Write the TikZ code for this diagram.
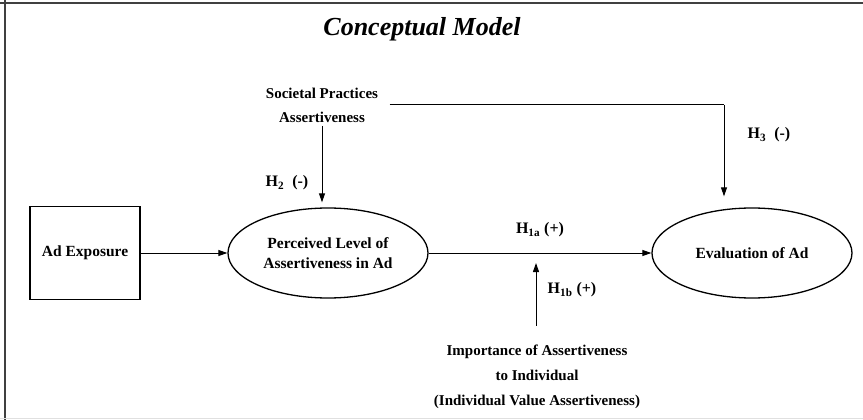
\documentclass[tikz,border=0pt]{standalone}
\usepackage{fontspec}
\setmainfont{Liberation Serif}
\usetikzlibrary{arrows.meta,shapes.geometric}

\begin{document}
\begin{tikzpicture}[x=1pt,y=-1pt,
  box/.style={draw, line width=1.4pt, minimum width=110pt, minimum height=93pt,
    inner sep=1pt, font=\bfseries\fontsize{15.5}{18}\selectfont},
  construct/.style={draw, ellipse, line width=1.3pt, minimum width=200pt,
    minimum height=90pt, inner sep=0pt, align=center,
    font=\bfseries\fontsize{15.5}{20}\selectfont},
  factor/.style={align=center, font=\bfseries\fontsize{15}{24}\selectfont},
  hyp/.style={font=\bfseries\fontsize{16}{18}\selectfont},
  link/.style={-{Triangle[length=9pt,width=6pt]}, line width=1pt}]
  \useasboundingbox (0,0) rectangle (863,420);

  % Frame
  \draw[line width=2.5pt, black!75] (0,3) -- (863,3);
  \draw[line width=2pt, black!75] (5,0) -- (5,420);
  \draw[line width=0.8pt, black!12] (0,418.5) -- (863,418.5);

  % Title
  \node[font=\bfseries\itshape\fontsize{26}{28}\selectfont] (title) at (422,29) {Conceptual Model};

  % Constructs
  \node[box] (adexp) at (85,253) {Ad Exposure};
  \node[construct] (perc) at (328,253) {Perceived Level of\\Assertiveness in Ad};
  \node[construct] (eval) at (752,253) {Evaluation of Ad};

  % Moderators
  \node[factor] (spa) at (322,105) {Societal Practices\\Assertiveness};
  \node[factor, font=\bfseries\fontsize{15}{25}\selectfont] (imp) at (537,377)
    {Importance of Assertiveness\\to Individual\\(Individual Value Assertiveness)};
  \coordinate (h3turn) at (724,105);

  % Paths
  \draw[link] (adexp) -- (perc);
  \draw[link] (perc) -- (eval);
  \draw[link, shorten >=5pt] (spa.south) -- (spa.south |- perc.north);
  \draw[line width=1pt] ([xshift=8pt]spa.east) -- (h3turn);
  \draw[link, shorten >=11pt] (h3turn) -- (h3turn |- eval.north);
  \draw[link, shorten <=16pt, shorten >=10pt] (imp.north -| 536,0) -- (perc.east -| 536,0);

  % Hypotheses
  \node[hyp] (h2) at (287,183) {H\textsubscript{2}\ \ (-)};
  \node[hyp] (h3) at (769,135) {H\textsubscript{3}\ \ (-)};
  \node[hyp] (h1a) at (540,230) {H\textsubscript{1a} (+)};
  \node[hyp] (h1b) at (572,290) {H\textsubscript{1b} (+)};
\end{tikzpicture}
\end{document}
